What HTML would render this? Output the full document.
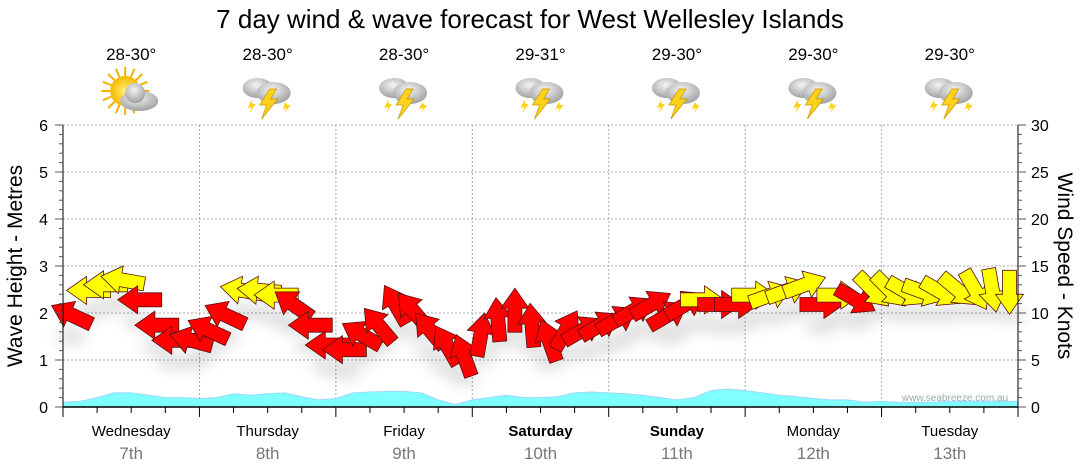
<!DOCTYPE html>
<html><head><meta charset="utf-8">
<style>
body{margin:0;background:#fff;font-family:"Liberation Sans",sans-serif;}
svg{display:block}
</style></head>
<body>
<svg id="chart" width="1080" height="475" viewBox="0 0 1080 475">
<defs>
<radialGradient id="cloudG" cx="0.45" cy="0.35" r="0.7"><stop offset="0" stop-color="#f4f4f4"/><stop offset="1" stop-color="#9a9a9a"/></radialGradient>
<radialGradient id="sunG" cx="0.5" cy="0.5" r="0.5"><stop offset="0" stop-color="#fff27a"/><stop offset="1" stop-color="#f5b800"/></radialGradient>
<filter id="sh" x="-20%" y="-20%" width="140%" height="160%"><feGaussianBlur stdDeviation="7"/></filter>
</defs>
<text x="530" y="28" text-anchor="middle" font-size="26" fill="#000">7 day wind &amp; wave forecast for West Wellesley Islands</text>
<g id="grid"></g>
<g id="wave"></g>
<g id="shadow" filter="url(#sh)" opacity="0.12"></g>
<g id="arrows"></g>
<g id="axes"></g>
<g id="icons"></g>
<text x="955" y="401" text-anchor="middle" font-size="10" fill="#9aa">www.seabreeze.com.au</text>
<text transform="translate(22,266) rotate(-90)" text-anchor="middle" font-size="21" fill="#000">Wave Height - Metres</text>
<text transform="translate(1058,266) rotate(90)" text-anchor="middle" font-size="21" fill="#000">Wind Speed - Knots</text>
</svg>
<script>
const days=["Wednesday","Thursday","Friday","Saturday","Sunday","Monday","Tuesday"];
const dates=["7th","8th","9th","10th","11th","12th","13th"];
const temps=["28-30°","28-30°","28-30°","29-31°","29-30°","29-30°","29-30°"];
const icons=["sun","storm","storm","storm","storm","storm","storm"];
const windSpeed=[9.8,12.4,13,13.5,11.4,8.7,7.1,7.1, 8.2,9.8,12.4,12.4,11.9,10.9,8.7,6.6, 6.1,7.7,8.7,10.9,10.3,8.2,6.6,5.5, 7.7,9.3,10.3,8.7,7.1,8.2,8.2,8.7, 9.3,10.3,10.9,9.8,10.9,11.4,10.9,10.9, 11.9,11.9,12.4,13,10.9,11.9,11.4,12.4, 12.4,12.2,12.2,12.2,12.4,12.4,12.4,12.2];
const windDir=[155,180,180,170,180,180,180,165, 155,155,170,175,180,145,180,180, 180,150,130,120,130,130,120,110, 80,95,90,95,110,60,30,30, 30,30,30,30,30,0,0,0, 0,20,20,20,0,0,-30,-45, -45,-30,-20,-30,-40,-60,-80,-90];
const windColor=["r","y","y","y","r","r","r","r", "r","r","y","y","y","r","r","r", "r","r","r","r","r","r","r","r", "r","r","r","r","r","r","r","r", "r","r","r","r","r","y","r","r", "y","y","y","y","r","y","r","y", "y","y","y","y","y","y","y","y"];
const waveHeight=[0.1,0.12,0.2,0.3,0.3,0.25,0.2,0.2,0.18,0.2,0.28,0.25,0.28,0.3,0.22,0.15,0.18,0.3,0.32,0.33,0.33,0.3,0.15,0.05,0.15,0.2,0.25,0.2,0.2,0.22,0.3,0.32,0.3,0.28,0.25,0.2,0.15,0.2,0.35,0.38,0.35,0.3,0.25,0.22,0.18,0.15,0.15,0.1,0.12,0.1,0.1,0.1,0.12,0.12,0.12,0.12,0.12];
const leftTicks=[0,1,2,3,4,5,6];
const rightTicks=[0,5,10,15,20,25,30];

const NS="http://www.w3.org/2000/svg";
const X0=63,X1=1018,Y0=407,Y1=125;
const dayW=(X1-X0)/7;
const yM=v=>Y0-(Y0-Y1)*v/6;
const yK=v=>Y0-(Y0-Y1)*v/30;
const xSlot=i=>X0+(i+0.5)*(X1-X0)/windSpeed.length;
const xWave=i=>X0+i*(X1-X0)/(waveHeight.length-1);
function mk(tag,attrs,parent){const e=document.createElementNS(NS,tag);for(const k in attrs)e.setAttribute(k,attrs[k]);parent.appendChild(e);return e;}
const grid=document.getElementById('grid'),axes=document.getElementById('axes'),wave=document.getElementById('wave'),arr=document.getElementById('arrows'),ic=document.getElementById('icons'),sh=document.getElementById('shadow');

leftTicks.forEach(t=>{if(t>0){const l=mk('line',{x1:X0,x2:X1,y1:yM(t),y2:yM(t),stroke:'#aaa','stroke-dasharray':'2,2'},grid);

}});
for(let d=1;d<7;d++){const x=X0+d*dayW;const l=mk('line',{x1:x,x2:x,y1:Y1,y2:Y0,stroke:'#aaa','stroke-dasharray':'2,2'},grid);

}

let p=`M${X0},${Y0}`;waveHeight.forEach((v,i)=>{p+=` L${xWave(i).toFixed(1)},${yM(v).toFixed(1)}`;});p+=` L${X1},${Y0} Z`;
const wa=mk('path',{d:p,fill:'#80ffff',stroke:'#9ad8ff','stroke-width':1},wave);



windSpeed.forEach((v,i)=>{
 const cx=xSlot(i),cy=yK(v),a=windDir[i];
 mk('ellipse',{cx:cx.toFixed(1),cy:(cy+22).toFixed(1),rx:16,ry:8,fill:'#000'},sh);
 const g=mk('g',{transform:`translate(${cx.toFixed(1)},${cy.toFixed(1)}) rotate(${-a})`},arr);
 
 
 mk('polygon',{points:'22,0 2,-14 2,-7 -22,-7 -22,7 2,7 2,14',fill:windColor[i]==='y'?'#ffff00':'#ff0000',stroke:'#5a1010','stroke-width':0.8},g);
});

const la=mk('line',{x1:X0,x2:X0,y1:Y1,y2:Y0+1,stroke:'#000'},axes);


const ra=mk('line',{x1:X1,x2:X1,y1:Y1,y2:Y0+1,stroke:'#000'},axes);


const ba=mk('line',{x1:X0,x2:X1,y1:Y0,y2:Y0,stroke:'#000','stroke-width':1.5},axes);


for(let k=0;k<=30;k++){const y=Y0-(Y0-Y1)*k/30;
 mk('line',{x1:X0-(k%5===0?8:4),x2:X0,y1:y,y2:y,stroke:'#555'},axes);
 mk('line',{x1:X1,x2:X1+(k%5===0?8:4),y1:y,y2:y,stroke:'#555'},axes);}
leftTicks.forEach(t=>{const e=mk('text',{x:X0-15,y:yM(t)+6,'text-anchor':'end','font-size':16},axes);e.textContent=t;

});
rightTicks.forEach(t=>{const e=mk('text',{x:X1+13,y:yK(t)+6,'text-anchor':'start','font-size':16},axes);e.textContent=t;

});
for(let k=0;k<=28;k++){const x=X0+k*dayW/4;mk('line',{x1:x,x2:x,y1:Y0,y2:Y0+(k%4===0?10:6),stroke:'#000'},axes);}

days.forEach((d,i)=>{
 const cx=X0+(i+0.5)*dayW;
 const t=mk('text',{x:cx,y:436,'text-anchor':'middle','font-size':15,'font-weight':(i===3||i===4)?'bold':'normal'},axes);t.textContent=d;
 
 
 const t2=mk('text',{x:cx,y:459,'text-anchor':'middle','font-size':17,fill:'#777'},axes);t2.textContent=dates[i];
 
 
 const t3=mk('text',{x:cx,y:60,'text-anchor':'middle','font-size':17},ic);t3.textContent=temps[i];
 
 
 const g=mk('g',{transform:`translate(${cx},95)`},ic);
 
 
 if(icons[i]==='sun'){
  for(let r=0;r<16;r++){mk('line',{x1:-6,y1:-4,x2:(-6+24*Math.cos(r*Math.PI/8)).toFixed(1),y2:(-4+24*Math.sin(r*Math.PI/8)).toFixed(1),stroke:'#f5b000','stroke-width':2},g);}
  mk('circle',{cx:-6,cy:-4,r:15,fill:'url(#sunG)'},g);
  mk('ellipse',{cx:8,cy:6,rx:19,ry:10,fill:'url(#cloudG)'},g);
  mk('circle',{cx:4,cy:-2,r:10,fill:'url(#cloudG)'},g);
 }else{
  mk('ellipse',{cx:-10,cy:-7,rx:15,ry:10,fill:'url(#cloudG)'},g);
  mk('ellipse',{cx:6,cy:-2,rx:17,ry:11,fill:'url(#cloudG)'},g);
  mk('polygon',{points:'2,-6 -8,10 -1,10 -6,24 10,4 3,4 9,-6',fill:'#ffd21a',stroke:'#c89400','stroke-width':0.7},g);
  mk('polygon',{points:'-16,5 -20,13 -16,12 -18,18 -12,9 -15,9',fill:'#ffd21a'},g);
  mk('polygon',{points:'18,7 15,14 19,13 17,18 23,10 20,10',fill:'#ffd21a'},g);
 }
});
</script>
</body></html>
